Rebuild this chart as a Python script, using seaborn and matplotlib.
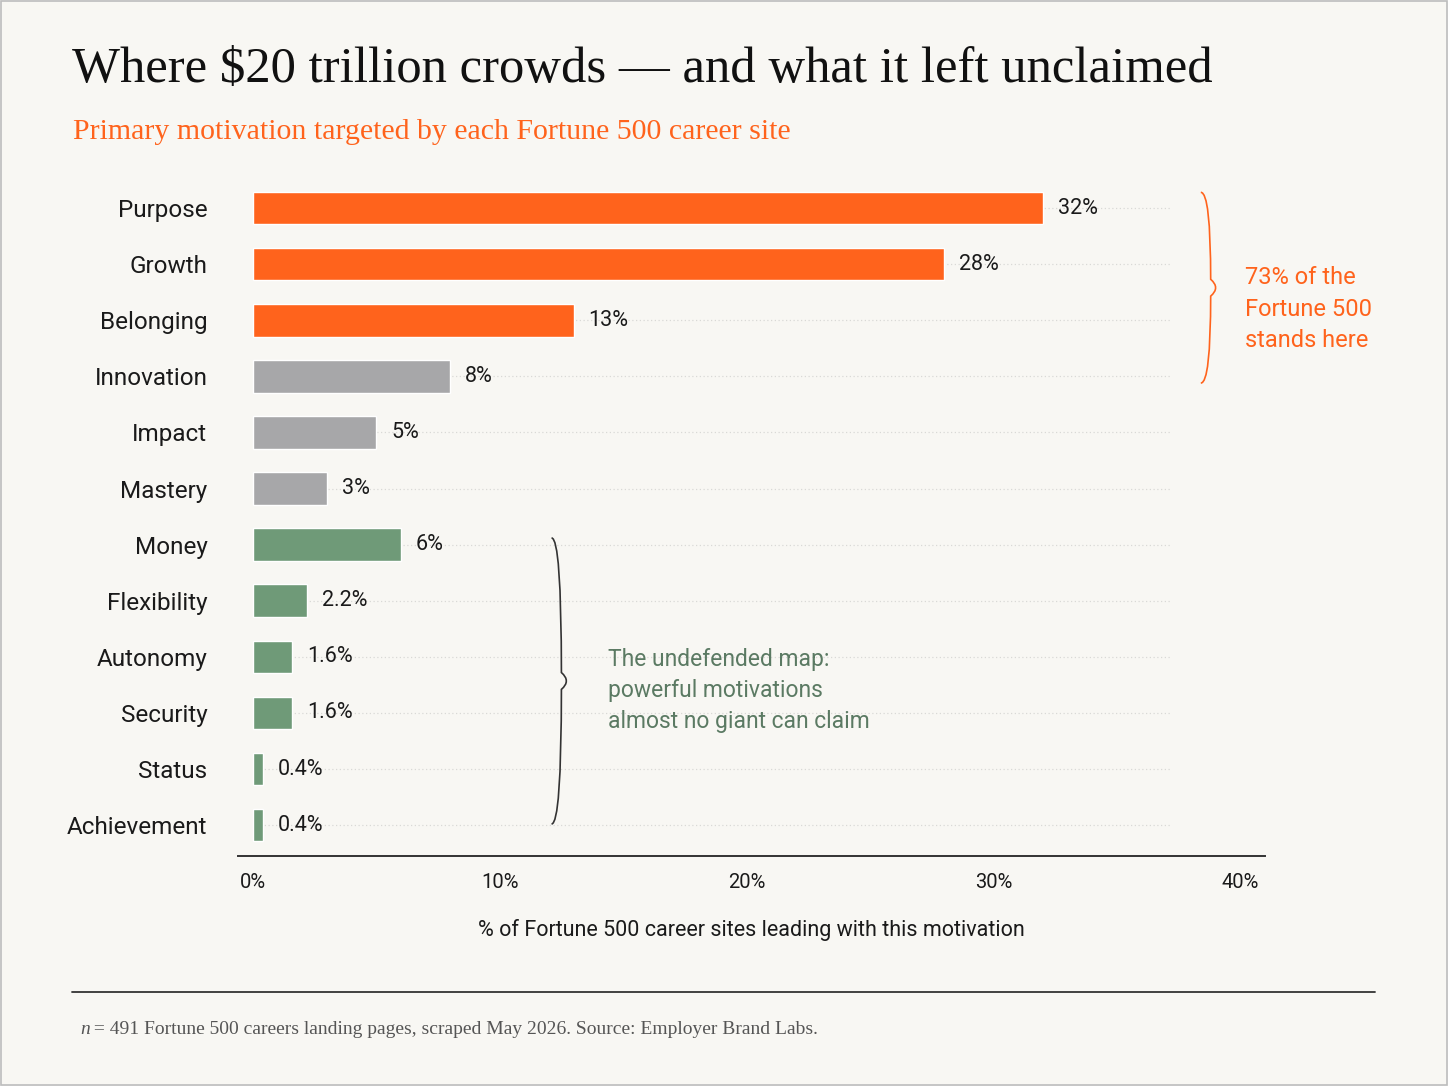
import numpy as np
import matplotlib
matplotlib.use("Agg")
import matplotlib.pyplot as plt
import pandas as pd
import seaborn as sns
from matplotlib.path import Path
from matplotlib.patches import PathPatch

# data
motivations = ['Purpose', 'Growth', 'Belonging', 'Innovation', 'Impact', 'Mastery',
               'Money', 'Flexibility', 'Autonomy', 'Security', 'Status', 'Achievement']
shares = [32, 28, 13, 8, 5, 3, 6, 2.2, 1.6, 1.6, 0.4, 0.4]
share_labels = ['32%', '28%', '13%', '8%', '5%', '3%', '6%', '2.2%', '1.6%', '1.6%', '0.4%', '0.4%']
groups = ['crowded'] * 3 + ['middle'] * 3 + ['undefended'] * 6
x_ticks = [0, 10, 20, 30, 40]
x_tick_labels = ['0%', '10%', '20%', '30%', '40%']

BG = '#f8f7f3'
ORANGE = '#ff631c'
GREY = '#a7a7a9'
GREEN = '#6f9a78'
GREEN_TXT = '#5b7a63'
INK = '#1a1a1a'

sns.set_style("white")
plt.rcParams['font.family'] = ['Roboto', 'DejaVu Sans']

df = pd.DataFrame({'motivation': motivations, 'share': shares, 'group': groups})
palette = {'crowded': ORANGE, 'middle': GREY, 'undefended': GREEN}

fig = plt.figure(figsize=(14.48, 10.86), dpi=100, facecolor=BG)
ax = fig.add_axes([238 / 1448, 1 - 856 / 1086, (1265 - 238) / 1448, (856 - 180) / 1086])
ax.set_facecolor(BG)

sns.barplot(data=df, y='motivation', x='share', hue='group', palette=palette,
            dodge=False, width=0.58, legend=False, ax=ax, saturation=1, zorder=3)

ax.set_xlim(-0.6, 41)
ax.set_ylim(11.55, -0.5)

# faint dotted row guides
for i in range(len(motivations)):
    ax.hlines(i, 0, 37.2, colors='#d9d9d6', linestyles=(0, (1, 2)), linewidth=0.9, zorder=1)

for i, (v, lab) in enumerate(zip(shares, share_labels)):
    ax.text(v + 0.6, i, lab, va='center', ha='left', fontsize=15.5, color=INK)

ax.set_xticks(x_ticks)
ax.set_xticklabels(x_tick_labels, fontsize=14.5, color=INK)
ax.tick_params(axis='x', length=0, pad=12)
ax.tick_params(axis='y', length=0, pad=22, labelsize=17.5, labelcolor=INK)
ax.set_ylabel('')
ax.set_xlabel('% of Fortune 500 career sites leading with this motivation', fontsize=15.5,
              color=INK, labelpad=20)
for s in ['top', 'right', 'left']:
    ax.spines[s].set_visible(False)
ax.spines['bottom'].set_color('#333333')
ax.spines['bottom'].set_linewidth(1.4)


def brace(ax, x, y0, y1, w, color):
    # curly brace opening left, tip pointing right
    ym = (y0 + y1) / 2
    p = Path([(x, y0), (x + w / 2, y0), (x + w / 2, ym - 0.15), (x + w, ym),
              (x + w / 2, ym + 0.15), (x + w / 2, y1), (x, y1)],
             [Path.MOVETO, Path.CURVE3, Path.CURVE3, Path.CURVE3, Path.CURVE3,
              Path.CURVE3, Path.CURVE3])
    ax.add_patch(PathPatch(p, fill=False, edgecolor=color, linewidth=1.2, clip_on=False))


brace(ax, 38.4, -0.28, 3.12, 0.8, ORANGE)
brace(ax, 12.1, 5.88, 10.98, 0.8, '#333333')

ax.text(40.2, 1.8, "73% of the\nFortune 500\nstands here", color=ORANGE, fontsize=17,
        va='center', ha='left', linespacing=1.45)
ax.text(14.4, 8.6, "The undefended map:\npowerful motivations\nalmost no giant can claim",
        color=GREEN_TXT, fontsize=16.5, va='center', ha='left', linespacing=1.45)

fig.text(72 / 1448, 1 - 70 / 1086, "Where $20 trillion crowds \u2014 and what it left unclaimed",
         family=['Liberation Serif', 'DejaVu Serif'], fontsize=36.5, color='#111111', va='center')
fig.text(73 / 1448, 1 - 132 / 1086, "Primary motivation targeted by each Fortune 500 career site",
         family=['Liberation Serif', 'DejaVu Serif'], fontsize=21.5, color=ORANGE, va='center')

fig.add_artist(plt.Line2D([72 / 1448, 1375 / 1448], [1 - 992 / 1086] * 2, color='#333333', linewidth=1.3))
fig.text(80 / 1448, 1 - 1030 / 1086, "n", family=['Liberation Serif'], style='italic',
         fontsize=14, color='#555555', va='center')
fig.text(89 / 1448, 1 - 1030 / 1086,
         " = 491 Fortune 500 careers landing pages, scraped May 2026. Source: Employer Brand Labs.",
         family=['Liberation Serif', 'DejaVu Serif'], fontsize=14, color='#555555', va='center')

fig.add_artist(plt.Rectangle((0.001, 0.001), 0.998, 0.998, transform=fig.transFigure,
                             fill=False, edgecolor='#bdbdbd', linewidth=1.2))

fig.savefig('out.png', dpi=100, facecolor=BG)
